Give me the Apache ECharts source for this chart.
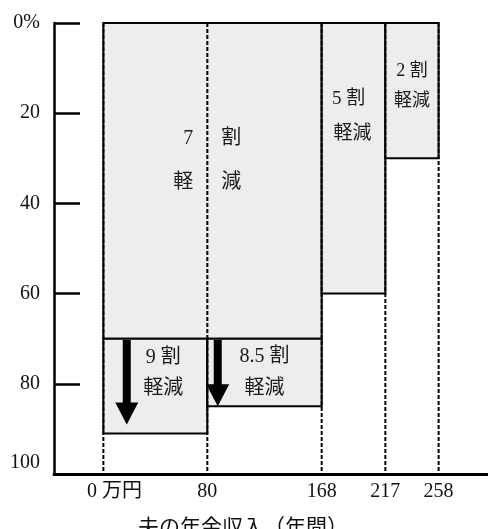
<!DOCTYPE html>
<html><head><meta charset="utf-8">
<script src="https://cdn.jsdelivr.net/npm/echarts@6/dist/echarts.min.js"></script>
<style>html,body{margin:0;padding:0;background:#fff}#c{width:488px;height:529px}</style>
</head><body><div id="c"></div>
<script>
// ---- data ----
const incomeTicks = [0, 80, 168, 217, 258];
const incomeTickLabels = ['0 万円', '80', '168', '217', '258'];
const shareTicks = [0, 20, 40, 60, 80, 100];
const boxNames = ['7割軽減', '5割軽減', '2割軽減', '9割軽減', '8.5割軽減'];
const boxFrom = [0, 168, 217, 0, 80];
const boxTo = [168, 217, 258, 80, 168];
const boxTop = [0, 0, 0, 70, 70];
const boxBottom = [70, 60, 30, 91, 85];
const arrowIncome = [18, 88];
const arrowFrom = [70, 70];
const arrowTo = [89, 85];
const xAxisName = '夫の年金収入（年間）';

// ---- layout / style (not data) ----
const FONT = "'Liberation Serif','Noto Sans CJK JP',serif";
// text placement per box: [text, dx(px from anchor), yValue, align, anchor('c' box centre or 'm' inner divider at 80), fontSize]
const boxTextLayout = [
  [['7', -14, 25.7, 'right', 'm', 20], ['割', 14, 25.7, 'left', 'm', 20], ['軽', -14, 35.5, 'right', 'm', 20], ['減', 14, 35.5, 'left', 'm', 20]],
  [['5 割', -5, 16.8, 'center', 'c', 19], ['軽減', -1, 24.6, 'center', 'c', 19]],
  [['2 割', 0, 10.6, 'center', 'c', 18], ['軽減', 0, 17.3, 'center', 'c', 18]],
  [['9 割', 8, 74.3, 'center', 'c', 20], ['軽減', 8, 81.2, 'center', 'c', 20]],
  [['8.5 割', 0, 74.0, 'center', 'c', 20], ['軽減', 0, 81.2, 'center', 'c', 20]]
];

const boxData = boxNames.map((n, i) => ({ name: n, value: [boxFrom[i], boxTo[i], boxTop[i], boxBottom[i]] }));
const guideData = incomeTicks.map(v => [v, 0, 100]);
const arrowData = arrowIncome.map((v, i) => [v, arrowFrom[i], arrowTo[i]]);

const chart = echarts.init(document.getElementById('c'), null, { renderer: 'canvas' });
chart.setOption({
  animation: false,
  backgroundColor: '#fff',
  grid: { left: 54, right: 0, top: 23, bottom: 55, containLabel: false, outerBoundsMode: 'none' },
  xAxis: {
    type: 'value', min: -38, max: 296,
    axisLine: { show: true, onZero: false, lineStyle: { color: '#000', width: 3 } },
    axisTick: { show: false },
    splitLine: { show: false },
    axisLabel: {
      customValues: incomeTicks,
      margin: 8,
      fontFamily: FONT, fontSize: 20, color: '#111',
      formatter: v => {
        const i = incomeTicks.indexOf(v);
        const t = i >= 0 ? incomeTickLabels[i] : '';
        return i === 0 ? '{z|' + t + '}' : t;
      },
      rich: { z: { fontFamily: FONT, fontSize: 20, color: '#111', padding: [0, 0, 0, 22] } }
    },
    name: xAxisName, nameLocation: 'middle', nameGap: 44,
    nameTextStyle: { fontFamily: FONT, fontSize: 21, color: '#111', padding: [0, 56, 0, 0] }
  },
  yAxis: {
    type: 'value', inverse: true, min: 0, max: 100, interval: 20,
    axisLine: { show: true, onZero: false, lineStyle: { color: '#000', width: 2.5 } },
    axisTick: { show: true, inside: true, length: 26, lineStyle: { color: '#000', width: 2.5 } },
    splitLine: { show: false },
    axisLabel: {
      margin: 14, fontFamily: FONT, fontSize: 20, color: '#111',
      formatter: v => v === 0 ? '0%' : (v === 100 ? '{b|100}' : String(v)),
      rich: { b: { fontFamily: FONT, fontSize: 20, color: '#111', padding: [0, 0, 22, 0] } }
    }
  },
  series: [
    {
      type: 'custom', name: 'boxes', z: 2,
      encode: { x: [0, 1], y: [2, 3] },
      data: boxData,
      renderItem: (params, api) => {
        const i = params.dataIndex;
        const x0 = api.value(0), x1 = api.value(1), y0 = api.value(2), y1 = api.value(3);
        const p0 = api.coord([x0, y0]);
        const p1 = api.coord([x1, y1]);
        const children = [{
          type: 'rect',
          shape: { x: p0[0], y: p0[1], width: p1[0] - p0[0], height: p1[1] - p0[1] },
          style: { fill: '#ededed', stroke: '#000', lineWidth: 2 }
        }];
        const cx = (p0[0] + p1[0]) / 2;
        const mx = api.coord([incomeTicks[1], 0])[0];
        boxTextLayout[i].forEach(t => {
          const ax = t[4] === 'm' ? mx : cx;
          const py = api.coord([x0, t[2]])[1];
          children.push({
            type: 'text',
            style: {
              text: t[0], x: ax + t[1], y: py,
              align: t[3], verticalAlign: 'middle',
              font: t[5] + 'px ' + FONT, fill: '#1a1a1a'
            }
          });
        });
        return { type: 'group', children };
      }
    },
    {
      type: 'custom', name: 'guides', z: 3,
      encode: { x: 0, y: [1, 2] },
      data: guideData,
      renderItem: (params, api) => {
        const a = api.coord([api.value(0), api.value(1)]);
        const b = api.coord([api.value(0), api.value(2)]);
        return {
          type: 'line',
          shape: { x1: a[0], y1: a[1], x2: b[0], y2: b[1] },
          style: { stroke: '#000', lineWidth: 2, lineDash: [4, 2] }
        };
      }
    },
    {
      type: 'custom', name: 'arrows', z: 4,
      encode: { x: 0, y: [1, 2] },
      data: arrowData,
      renderItem: (params, api) => {
        const a = api.coord([api.value(0), api.value(1)]);
        const b = api.coord([api.value(0), api.value(2)]);
        const x = a[0], top = a[1] + 1, bot = b[1];
        const sw = 4, hw = 11.5, hh = 22;
        return {
          type: 'polygon',
          shape: { points: [[x - sw, top], [x + sw, top], [x + sw, bot - hh], [x + hw, bot - hh], [x, bot], [x - hw, bot - hh], [x - sw, bot - hh]] },
          style: { fill: '#000' }
        };
      }
    }
  ]
});
</script>
</body></html>
